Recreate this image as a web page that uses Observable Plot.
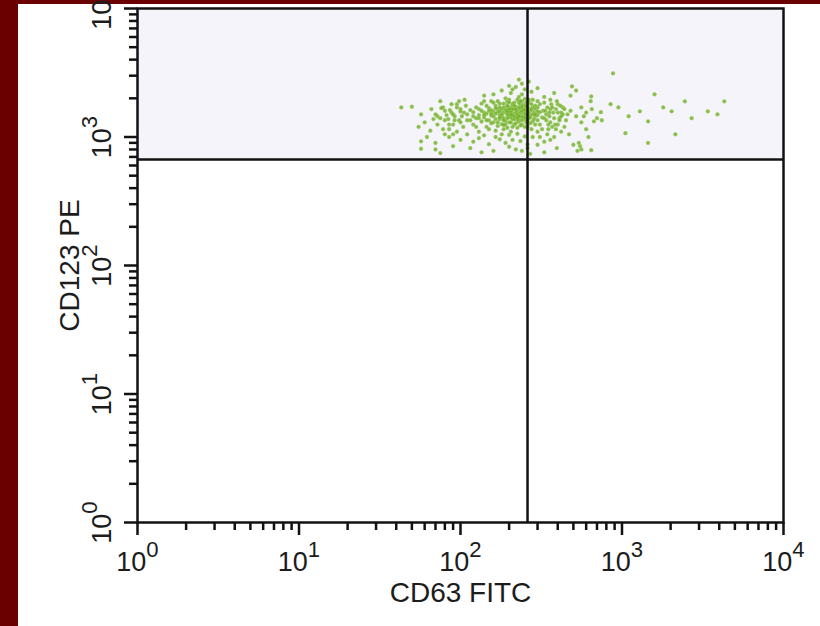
<!DOCTYPE html>
<html><head><meta charset="utf-8">
<script src="https://cdn.jsdelivr.net/npm/d3@7"></script>
<script src="https://cdn.jsdelivr.net/npm/@observablehq/plot@0.6"></script>
<style>
html,body{margin:0;padding:0;background:#6b0000;}
#wrap{position:relative;width:820px;height:626px;overflow:hidden;}
#panel{position:absolute;left:18px;top:4px;right:0;bottom:0;background:#fff;}
#chart{position:absolute;left:0;top:0;}
</style></head><body>
<div id="wrap"><div id="panel"></div><div id="chart"></div></div>
<script>
// CD63 FITC (x) values of each event
const cd63 = [
180,205,160,230,250,195,140,270,215,175,240,125,290,210,185,260,150,230,200,170,120,300,245,220,190,155,135,280,205,265,110,325,230,175,250,145,215,195,165,285,240,130,205,260,180,310,225,155,195,235,
275,115,200,170,250,140,220,300,185,260,160,210,245,130,290,175,225,195,150,270,235,205,180,255,120,320,165,240,190,280,215,145,230,200,170,260,135,210,250,185,300,155,225,195,275,125,240,205,180,265,
160,215,290,145,235,190,255,170,210,130,245,220,310,185,150,275,200,235,165,260,115,225,195,280,140,205,250,175,230,155,300,185,215,265,120,240,195,165,285,210,145,255,180,225,270,135,200,250,160,290,
220,190,240,170,310,205,230,150,265,185,215,125,280,245,195,175,255,225,140,300,210,235,165,270,200,185,250,155,220,290,130,240,205,175,260,195,230,
130,165,210,250,190,110,280,150,235,100,70,85,300,140,200,260,175,225,120,
70,75,115,160,240,260,200,330,90,135,270,395,220,
43,50,57,66,60,72,55,80,65,78,90,88,95,75,85,62,68,92,100,98,80,57,57,
180,220,250,160,275,200,300,240,230,265,140,210,
340,360,380,420,450,400,350,480,520,360,560,600,440,390,330,480,520,420,370,460,340,640,560,600,410,550,500,530,470,620,380,330,355,400,430,700,650,750,580,
880,1590,2450,4300,3400,3900,2030,1450,2140,1050,1290,1450,645,850,740,670,540,645,560,490,1100,950,1800,2700,
75,80,85,90,95,100,105,70,78,88,95,102,108,82,92,72,98,86,104,76,110,106,90,84,100,
330,345,360,375,390,410,430,350,365,385,400,420,440,335,355,370,395,415,345,380,360,330,310,320,300
];
// CD123 PE (y) values of each event
const cd123 = [
1450,1600,1300,1500,1380,1720,1550,1650,1250,1820,1900,1400,1450,1380,1150,1200,1680,2050,1950,1560,1250,1700,1550,1720,1330,1470,1820,1320,1100,1850,1500,1600,1320,1380,1700,1200,1850,1480,1750,1550,1250,1650,2200,1450,1050,1250,1610,1900,1620,1780,
1150,1350,1300,1220,1980,1420,1470,1900,1700,1580,1580,1520,1420,1100,1750,1480,1180,1880,1350,1480,1660,1420,1640,1300,1560,1420,1120,2150,1250,1950,1640,1750,1400,1560,1900,1720,1320,1800,1520,1400,1350,1620,1950,1180,1620,1700,1350,1700,1260,1400,
1450,1380,1250,1520,1560,2000,1850,1650,1200,1480,1780,1280,1560,1550,1150,1800,1450,1230,1380,1650,1620,1500,1750,1500,1900,1580,1420,1700,1850,1280,1480,1820,1450,1550,1450,1600,1400,1520,1380,1650,1350,1750,1500,1370,1280,1600,1860,1200,1850,1650,
1560,1620,1450,1300,1800,1300,1700,1600,1950,1350,1750,1200,1700,1650,1520,1580,1500,1420,1480,1580,1480,1900,1680,1420,1650,1240,1620,1520,1650,1500,1400,1720,1500,1420,1350,1580,1450,
980,1000,950,1010,900,1050,1000,880,930,950,900,1000,870,1030,1040,880,960,1060,920,
800,750,820,780,780,820,840,760,850,760,740,820,800,
1700,1720,1500,1650,1300,1450,1200,1350,1120,1700,1250,1550,1800,1900,1150,1000,1380,1450,1650,1350,1050,926,810,
2300,2450,2350,2150,2250,2500,2400,2600,2800,2700,2100,2350,
1500,1650,1400,1550,1350,1800,1250,1600,1450,1950,1700,1550,1200,1150,1850,2100,2300,1100,1700,1500,1350,1900,1300,1150,1400,850,870,780,1050,1000,2200,2050,1550,1250,1700,1400,1650,1350,1450,
3130,2150,1895,1895,1585,1500,1585,900,1050,1070,1585,1325,2070,1800,1560,1325,900,790,800,2480,1450,1700,1700,1400,
1400,1600,1250,1500,1700,1300,1550,1500,1150,1800,1100,1450,1750,1480,1350,1250,1900,1620,1200,1680,1350,1950,1050,1380,1580,
1400,1700,1300,1550,1650,1350,1500,1150,1800,1250,1550,1450,1650,1600,1450,1200,1900,1750,1050,1000,950,920,1000,1150,1100
];
// quadrant gate positions
const gateX = [260];
const gateY = [668];
// axis decades
const decades = [1, 10, 100, 1000, 10000];
const minorTicks = [];
for (const d of decades.slice(0, -1)) for (let k = 2; k <= 9; k++) minorTicks.push(k * d);

const events = cd63.map((x, i) => ({cd63: x, cd123: cd123[i]}));
const font = "'Liberation Sans', Arial, Helvetica, sans-serif";
const ink = "#121212";
const exp = d => "10^" + Math.round(Math.log10(d));

const chart = Plot.plot({
  width: 820, height: 626,
  marginLeft: 137, marginRight: 37, marginTop: 8, marginBottom: 104,
  x: {type: "log", domain: [1, 1e4], label: null},
  y: {type: "log", domain: [1, 1e4], label: null},
  style: {background: "transparent", fontFamily: font, overflow: "visible"},
  marks: [
    Plot.rect(gateY, {x1: () => 1, x2: () => 1e4, y1: d => d, y2: () => 1e4, fill: "#f5f4fa"}),
    Plot.dot(events, {x: "cd63", y: "cd123", r: 1.9, fill: "#6aae2c", fillOpacity: 0.8, stroke: "#a6cf5c", strokeWidth: 0.5}),
    Plot.ruleX(gateX, {stroke: ink, strokeWidth: 2.5}),
    Plot.ruleY(gateY, {stroke: ink, strokeWidth: 2.5}),
    Plot.frame({stroke: ink, strokeWidth: 2.5}),
    Plot.axisX(minorTicks, {tickSize: 8, tickFormat: () => "", stroke: ink, strokeWidth: 2.5, label: null}),
    Plot.axisX(decades, {tickSize: 13, tickFormat: () => "", stroke: ink, strokeWidth: 2.5, label: null}),
    Plot.axisY(minorTicks, {tickSize: 8, tickFormat: () => "", stroke: ink, strokeWidth: 2.5, label: null}),
    Plot.axisY(decades, {tickSize: 13, tickFormat: () => "", stroke: ink, strokeWidth: 2.5, label: null}),
    Plot.text(decades, {x: d => d, text: exp, frameAnchor: "bottom", dy: 48, lineAnchor: "bottom", textAnchor: "middle", fontSize: 27, fill: "#1c1c1c"}),
    Plot.text(decades, {y: d => d, text: exp, frameAnchor: "left", dx: -27, rotate: -90, lineAnchor: "bottom", textAnchor: "middle", fontSize: 27, fill: "#1c1c1c"}),
    Plot.text(["CD63 FITC"], {frameAnchor: "bottom", dy: 79, lineAnchor: "bottom", textAnchor: "middle", fontSize: 28, fill: "#1c1c1c"}),
    Plot.text(["CD123 PE"], {frameAnchor: "left", dx: -59, rotate: -90, lineAnchor: "bottom", textAnchor: "middle", fontSize: 28, fill: "#1c1c1c"})
  ]
});

chart.querySelectorAll("text").forEach(t => {
  const m = /^10\^(\d)$/.exec(t.textContent);
  if (m) {
    t.textContent = "10";
    const ts = document.createElementNS("http://www.w3.org/2000/svg", "tspan");
    ts.setAttribute("dy", "-0.6em");
    ts.setAttribute("font-size", "0.82em");
    ts.textContent = m[1];
    t.appendChild(ts);
  }
});
document.getElementById("chart").appendChild(chart);
</script>
</body></html>
